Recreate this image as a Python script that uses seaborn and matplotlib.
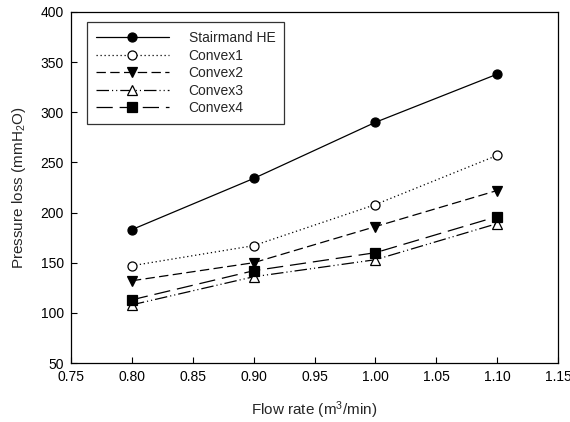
import matplotlib
matplotlib.use("Agg")
import matplotlib.pyplot as plt
import seaborn as sns
import pandas as pd

flow = [0.80, 0.90, 1.00, 1.10]
stairmand = [183, 234, 290, 338]
convex1 = [147, 167, 208, 257]
convex2 = [132, 150, 186, 222]
convex3 = [108, 136, 153, 189]
convex4 = [113, 142, 160, 196]
names = ["Stairmand HE", "Convex1", "Convex2", "Convex3", "Convex4"]
series = [stairmand, convex1, convex2, convex3, convex4]
xticks = [0.75, 0.80, 0.85, 0.90, 0.95, 1.00, 1.05, 1.10, 1.15]
yticks = [50, 100, 150, 200, 250, 300, 350, 400]

sns.set_style("ticks")
plt.rcParams['font.family'] = ['Liberation Sans', 'DejaVu Sans']
plt.rcParams['mathtext.fontset'] = 'custom'
plt.rcParams['mathtext.rm'] = 'Liberation Sans'
plt.rcParams['mathtext.it'] = 'Liberation Sans'

fig = plt.figure(figsize=(5.7, 4.22), dpi=100)
ax = fig.add_axes([0.1246, 0.1398, 0.979 - 0.1246, 0.9716 - 0.1398])

styles = [
    dict(ls='-', marker='o', mfc='black'),
    dict(ls=(0, (1, 2.2)), marker='o', mfc='white'),
    dict(ls=(0, (7.5, 3.5)), marker='v', mfc='black'),
    dict(ls=(0, (10, 2.4, 0.9, 2.4, 0.9, 2.4)), marker='^', mfc='white'),
    dict(ls=(0, (13, 5.5)), marker='s', mfc='black'),
]

for name, vals, st in zip(names, series, styles):
    df = pd.DataFrame({"flow": flow, "loss": vals})
    sns.lineplot(data=df, x="flow", y="loss", ax=ax, color='black', lw=0.9,
                 linestyle=st['ls'], marker=st['marker'], markersize=6.5,
                 markerfacecolor=st['mfc'], markeredgecolor='black',
                 markeredgewidth=0.9, label=name)

ax.set_xlim(0.75, 1.15)
ax.set_ylim(50, 400)
ax.set_xticks(xticks)
ax.set_xticklabels([f"{v:.2f}" for v in xticks])
ax.set_yticks(yticks)
ax.tick_params(direction='in', length=4, width=0.8, labelsize=10, colors='black', pad=5)
for s in ax.spines.values():
    s.set_linewidth(0.9)
    s.set_color('black')
    s.set_visible(True)
ax.set_xlabel("Flow rate (m$^3$/min)", fontsize=11, labelpad=11)
ax.set_ylabel("Pressure loss (mmH$_2$O)", fontsize=11, labelpad=9)

leg = ax.legend(loc='upper left', bbox_to_anchor=(0.032, 0.971), fontsize=10,
                handlelength=5.3, handletextpad=1.4, labelspacing=0.25,
                frameon=True, fancybox=False, edgecolor='black', borderpad=0.65,
                borderaxespad=0)
leg.get_frame().set_linewidth(0.9)

fig.savefig("out.png", dpi=100)
